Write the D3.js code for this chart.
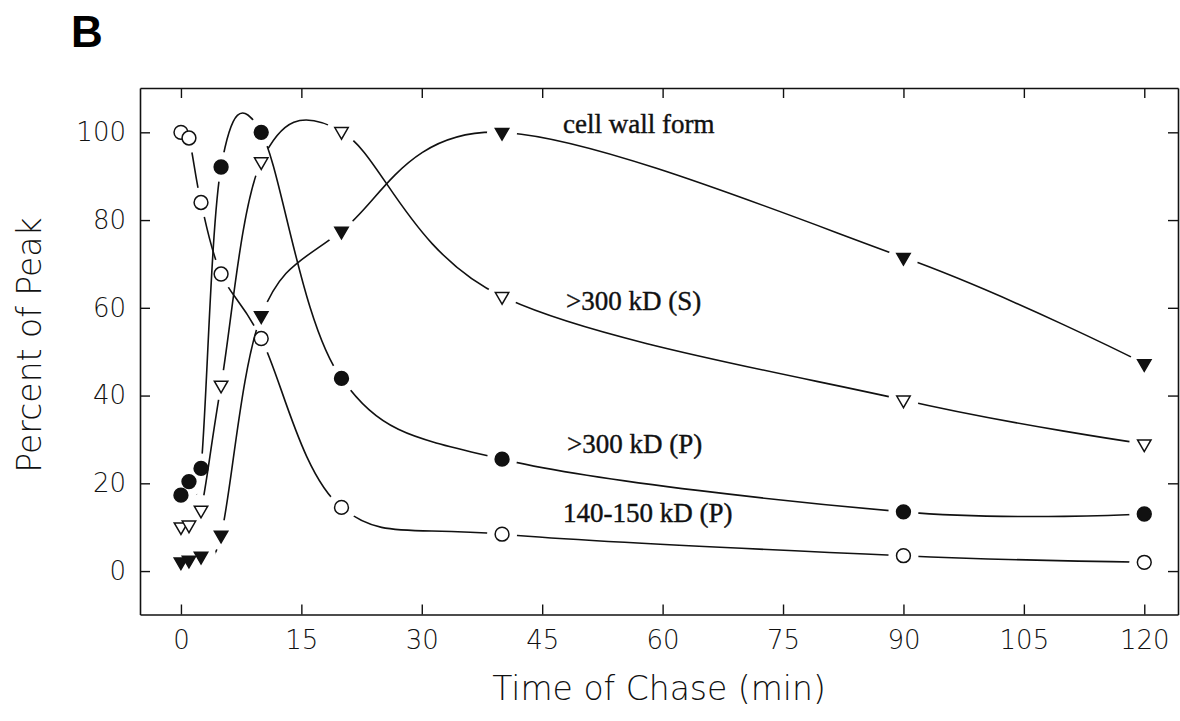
<!DOCTYPE html>
<html>
<head>
<meta charset="utf-8">
<script src="https://cdn.jsdelivr.net/npm/d3@7"></script>
<style>
  body { margin: 0; background: #fff; }
  svg { display: block; }
  .tick text { font-family: "DejaVu Sans", sans-serif; font-weight: 200; font-size: 26px; fill: #111; }
</style>
</head>
<body>
<div id="chart"></div>
<script>
// chase times (min)
const timePoints = [0, 1, 2.5, 5, 10, 20, 40, 90, 120];

// percent of peak for each species
const cellWallForm = [2.1, 2.5, 3.4, 8.2, 58.2, 77.5, 100, 71.5, 47.3];
const over300S = [10.1, 10.5, 13.9, 42.4, 93.3, 100.2, 62.6, 39, 29];
const over300P = [17.3, 20.4, 23.4, 92.1, 100, 43.9, 25.5, 13.5, 13];
const kd140to150P = [100, 98.7, 84, 67.7, 53, 14.5, 8.4, 3.5, 2];

const seriesNames = ["cell wall form", ">300 kD (S)", ">300 kD (P)", "140-150 kD (P)"];

const xTicks = [0, 15, 30, 45, 60, 75, 90, 105, 120];
const yTicks = [0, 20, 40, 60, 80, 100];

const width = 1180, height = 721;
const plotL = 140, plotR = 1178, plotT = 88, plotB = 614.5;

const svg = d3.select("#chart").append("svg")
    .attr("width", width)
    .attr("height", height);

const x = d3.scaleLinear().domain([-5.1, 124.2]).range([plotL, plotR]);
const y = d3.scaleLinear().domain([-9.9, 110.1]).range([plotB, plotT]);

// series: values + marker look
const series = [
    { name: seriesNames[0], values: cellWallForm, shape: "tri", filled: true },
    { name: seriesNames[1], values: over300S, shape: "tri", filled: false },
    { name: seriesNames[2], values: over300P, shape: "circle", filled: true },
    { name: seriesNames[3], values: kd140to150P, shape: "circle", filled: false }
];

// masks so each curve stops short of its own symbols
const defs = svg.append("defs");
series.forEach((s, i) => {
    const mask = defs.append("mask")
        .attr("id", "gap" + i)
        .attr("maskUnits", "userSpaceOnUse")
        .attr("x", 0).attr("y", 0)
        .attr("width", width).attr("height", height);
    mask.append("rect").attr("width", width).attr("height", height).attr("fill", "#fff");
    mask.selectAll("circle")
        .data(timePoints)
        .join("circle")
        .attr("cx", t => x(t))
        .attr("cy", (t, j) => y(s.values[j]))
        .attr("r", 15)
        .attr("fill", "#000");
});

// frame + inward ticks
svg.append("g")
    .attr("transform", `translate(0,${plotB})`)
    .call(d3.axisBottom(x).tickValues(xTicks).tickSize(-10).tickSizeOuter(0).tickPadding(16));
svg.append("g")
    .attr("transform", `translate(0,${plotT})`)
    .call(d3.axisTop(x).tickValues(xTicks).tickSize(-10).tickSizeOuter(0).tickFormat(""));
svg.append("g")
    .attr("transform", `translate(${plotL},0)`)
    .call(d3.axisLeft(y).tickValues(yTicks).tickSize(-10).tickSizeOuter(0).tickPadding(14));
svg.append("g")
    .attr("transform", `translate(${plotR},0)`)
    .call(d3.axisRight(y).tickValues(yTicks).tickSize(-10).tickSizeOuter(0).tickFormat(""));

svg.selectAll(".domain").attr("stroke", "#111").attr("stroke-width", 1.6);
svg.selectAll(".tick line").attr("stroke", "#111").attr("stroke-width", 1.4);

// curves
const line = d3.line()
    .x((d, i) => x(timePoints[i]))
    .y(d => y(d))
    .curve(d3.curveCatmullRom.alpha(0));

svg.append("g")
    .selectAll("path")
    .data(series)
    .join("path")
    .attr("d", s => line(s.values))
    .attr("mask", (s, i) => `url(#gap${i})`)
    .attr("fill", "none")
    .attr("stroke", "#111")
    .attr("stroke-width", 1.6);

// symbols
const circleSym = d3.symbol().type(d3.symbolCircle).size(150);
const triSym = d3.symbol().type(d3.symbolTriangle).size(78);

series.forEach(s => {
    svg.append("g")
        .selectAll("path")
        .data(s.values)
        .join("path")
        .attr("d", s.shape === "tri" ? triSym() : circleSym())
        .attr("transform", (v, i) => `translate(${x(timePoints[i])},${y(v)})` + (s.shape === "tri" ? " rotate(180)" : ""))
        .attr("fill", s.filled ? "#111" : "#fff")
        .attr("stroke", "#111")
        .attr("stroke-width", 1.5);
});

// series labels
const labelPos = [
    { x: 563, y: 133 },
    { x: 566, y: 310 },
    { x: 567, y: 453 },
    { x: 563, y: 522 }
];
svg.append("g")
    .selectAll("text")
    .data(seriesNames)
    .join("text")
    .attr("x", (d, i) => labelPos[i].x)
    .attr("y", (d, i) => labelPos[i].y)
    .attr("font-family", "'Liberation Serif', 'Times New Roman', serif")
    .attr("font-size", 27)
    .attr("fill", "#111")
    .attr("stroke", "#111")
    .attr("stroke-width", 0.4)
    .text(d => d);

// axis titles
svg.append("text")
    .attr("x", (plotL + plotR) / 2)
    .attr("y", 700)
    .attr("text-anchor", "middle")
    .attr("font-family", "'DejaVu Sans', sans-serif")
    .attr("font-weight", 200)
    .attr("font-size", 33)
    .attr("fill", "#111")
    .text("Time of Chase (min)");

svg.append("text")
    .attr("transform", "translate(41,345) rotate(-90)")
    .attr("text-anchor", "middle")
    .attr("font-family", "'DejaVu Sans', sans-serif")
    .attr("font-weight", 200)
    .attr("font-size", 33)
    .attr("fill", "#111")
    .text("Percent of Peak");

// panel letter
svg.append("text")
    .attr("x", 71)
    .attr("y", 47)
    .attr("font-family", "'Liberation Sans', Arial, sans-serif")
    .attr("font-weight", "bold")
    .attr("font-size", 44)
    .attr("fill", "#000")
    .text("B");
</script>
</body>
</html>
